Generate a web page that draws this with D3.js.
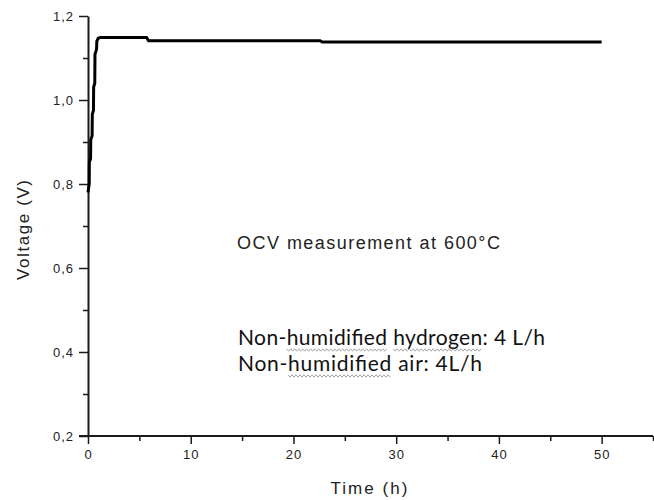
<!DOCTYPE html>
<html>
<head>
<meta charset="utf-8">
<script src="https://cdn.jsdelivr.net/npm/d3@7"></script>
<style>
  html, body { margin: 0; padding: 0; background: #fff; }
  svg { display: block; }
</style>
</head>
<body>
<svg id="chart" width="654" height="500"></svg>
<script>
// ---- data ----
const timeH = [0, 0.12, 0.13, 0.25, 0.27, 0.40, 0.42, 0.53, 0.55, 0.66, 0.68, 0.83, 0.86, 1.0, 1.2, 5.7, 5.9, 22.6, 22.8, 50];
const voltageV = [0.78, 0.80, 0.852, 0.86, 0.906, 0.915, 0.966, 0.975, 1.031, 1.04, 1.109, 1.12, 1.14, 1.147, 1.149, 1.149, 1.141, 1.141, 1.138, 1.138];
const xMajorTicks = [0, 10, 20, 30, 40, 50];
const xMinorTicks = [5, 15, 25, 35, 45, 55];
const yMajorTicks = [0.2, 0.4, 0.6, 0.8, 1.0, 1.2];
const yMinorTicks = [0.3, 0.5, 0.7, 0.9, 1.1];
const xTitle = "Time (h)";
const yTitle = "Voltage (V)";
const note1 = "OCV measurement at 600°C";
const note2 = "Non-humidified hydrogen: 4 L/h";
const note3 = "Non-humidified air: 4L/h";

const svg = d3.select("#chart");
const x = d3.scaleLinear().domain([0, 55]).range([88, 653]);
const y = d3.scaleLinear().domain([0.2, 1.2]).range([436, 16]);

const fmt = d => d3.format(".1f")(d).replace(".", ",");
const axisColor = "#1a1a1a";
const font = "'Liberation Sans', Arial, sans-serif";

// minor ticks
const xMinor = svg.append("g").attr("transform", `translate(0,${y(0.2)})`)
  .call(d3.axisBottom(x).tickValues(xMinorTicks).tickSize(5).tickFormat(""));
const yMinor = svg.append("g").attr("transform", `translate(${x(0)},0)`)
  .call(d3.axisLeft(y).tickValues(yMinorTicks).tickSize(5).tickFormat(""));
[xMinor, yMinor].forEach(g => {
  g.select(".domain").remove();
  g.selectAll("line").attr("stroke", axisColor).attr("stroke-width", 1.5);
});

// major axes
const xAxis = svg.append("g").attr("transform", `translate(0,${y(0.2)})`)
  .call(d3.axisBottom(x).tickValues(xMajorTicks).tickSize(8).tickSizeOuter(0).tickPadding(6).tickFormat(d3.format("d")));
const yAxis = svg.append("g").attr("transform", `translate(${x(0)},0)`)
  .call(d3.axisLeft(y).tickValues(yMajorTicks).tickSize(9).tickSizeOuter(0).tickPadding(5).tickFormat(fmt));
[xAxis, yAxis].forEach(g => {
  g.select(".domain").attr("stroke", axisColor).attr("stroke-width", 2);
  g.selectAll("line").attr("stroke", axisColor).attr("stroke-width", 1.5);
  g.selectAll("text").attr("fill", "#222").style("font-family", font).style("font-size", "13px");
});
xAxis.selectAll("text").style("letter-spacing", "1px");
yAxis.selectAll("text").style("letter-spacing", "1px").attr("dy", "0.35em");
// extend x-axis line left to meet the 0.2 tick
xAxis.select(".domain").attr("d", `M${x(0) - 9},0H${x(55)}`);

// curve
const line = d3.line().x((d, i) => x(timeH[i])).y((d, i) => y(voltageV[i]));
svg.append("path")
  .datum(voltageV)
  .attr("d", line)
  .attr("fill", "none")
  .attr("stroke", "#000")
  .attr("stroke-width", 3)
  .attr("stroke-linejoin", "miter");

// axis titles
svg.append("text")
  .attr("x", 369).attr("y", 494)
  .attr("text-anchor", "middle")
  .attr("textLength", 77).attr("lengthAdjust", "spacing")
  .style("font-family", font).style("font-size", "17px").attr("fill", "#222")
  .text(xTitle);
svg.append("text")
  .attr("transform", "translate(29,230) rotate(-90)")
  .attr("text-anchor", "middle")
  .attr("textLength", 100).attr("lengthAdjust", "spacing")
  .style("font-family", font).style("font-size", "17px").attr("fill", "#222")
  .text(yTitle);

// annotations
svg.append("text")
  .attr("x", 237).attr("y", 249)
  .attr("textLength", 263).attr("lengthAdjust", "spacing")
  .style("font-family", font).style("font-size", "18px").attr("fill", "#222")
  .text(note1);

const calibri = "Lato, 'Open Sans', sans-serif";
const t2 = svg.append("text")
  .attr("x", 238).attr("y", 345)
  .attr("textLength", 307).attr("lengthAdjust", "spacing")
  .style("font-family", calibri).style("font-size", "21px").attr("fill", "#111")
  .text(note2);
const t3 = svg.append("text")
  .attr("x", 238).attr("y", 371)
  .attr("textLength", 244).attr("lengthAdjust", "spacing")
  .style("font-family", calibri).style("font-size", "21px").attr("fill", "#111")
  .text(note3);

// spell-check style squiggles under words
function squiggle(textSel, word, yBase) {
  const node = textSel.node();
  const s = node.textContent;
  const i = s.indexOf(word);
  if (i < 0) return;
  const x0 = node.getStartPositionOfChar(i).x;
  const x1 = node.getEndPositionOfChar(i + word.length - 1).x;
  const pts = [];
  let k = 0;
  for (let xx = x0; xx <= x1; xx += 2) { pts.push([xx, yBase + (k % 2 ? 1.2 : -1.2)]); k++; }
  svg.append("path").attr("d", d3.line()(pts))
    .attr("fill", "none").attr("stroke", "#9a9a9a").attr("stroke-width", 0.9);
}
document.fonts.ready.then(() => {
  squiggle(t2, "humidified", 350);
  squiggle(t2, "hydrogen", 350);
  squiggle(t3, "humidified", 376);
});
</script>
</body>
</html>
